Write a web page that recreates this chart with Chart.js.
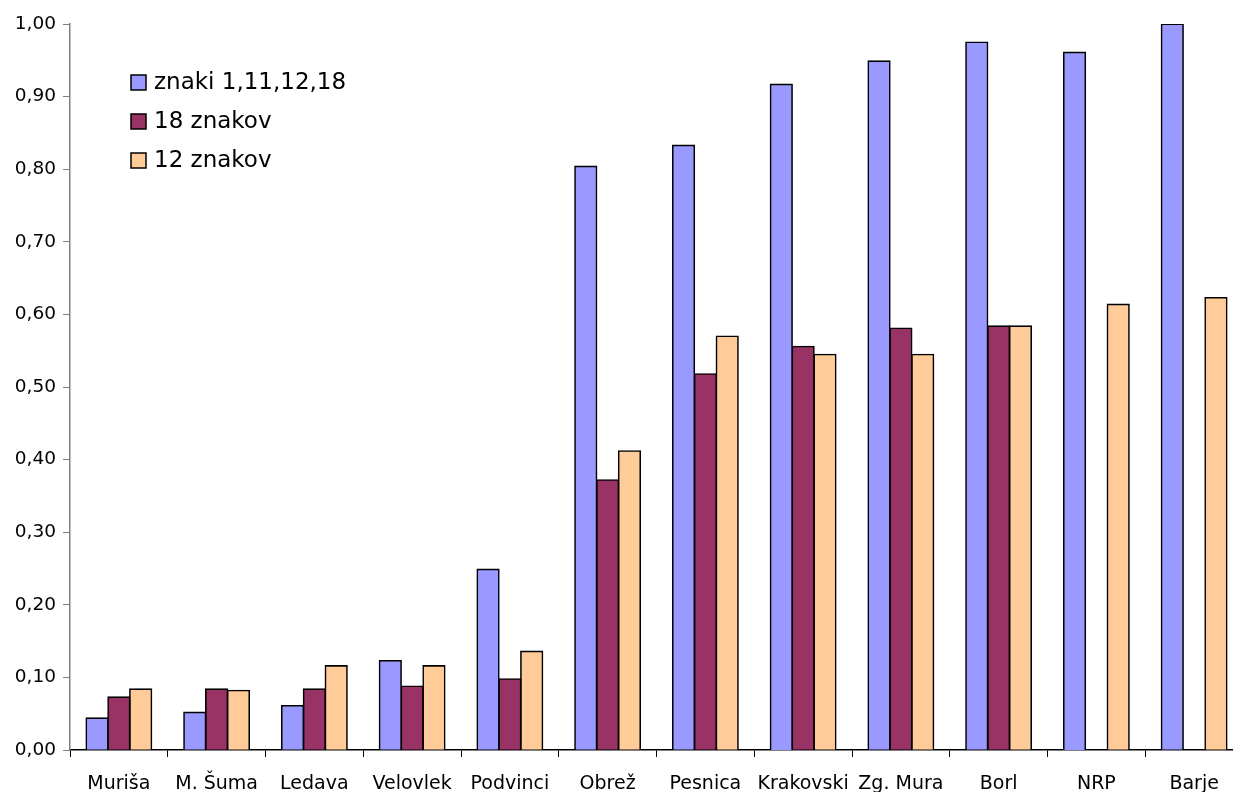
<!DOCTYPE html>
<html><head><meta charset="utf-8">
<script src="https://cdn.jsdelivr.net/npm/chart.js@4/dist/chart.umd.min.js"></script>
<style>html,body{margin:0;padding:0;background:#fff;overflow:hidden;width:1233px;height:792px}canvas{display:block}</style>
</head><body>
<canvas id="c" width="1245" height="810"></canvas>
<script>
const categories = ["Muriša","M. Šuma","Ledava","Velovlek","Podvinci","Obrež","Pesnica","Krakovski","Zg. Mura","Borl","NRP","Barje"];
const seriesNames = ["znaki 1,11,12,18","18 znakov","12 znakov"];
const znaki = [0.044,0.052,0.061,0.123,0.249,0.804,0.833,0.917,0.949,0.975,0.961,1.00];
const znakov18 = [0.073,0.084,0.084,0.088,0.098,0.372,0.518,0.556,0.581,0.584,null,null];
const znakov12 = [0.084,0.082,0.116,0.116,0.136,0.412,0.570,0.545,0.545,0.584,0.614,0.623];
const yTicks = [0,0.1,0.2,0.3,0.4,0.5,0.6,0.7,0.8,0.9,1.0];

const colors = ["#9999FF","#993366","#FFCC99"];
const FONT = "'DejaVu Sans', Verdana, sans-serif";

const legendPlugin = {
  id: 'insideLegend',
  afterDraw(chart) {
    const ctx = chart.ctx;
    ctx.save();
    ctx.font = "23px " + FONT;
    ctx.textBaseline = 'middle';
    chart.data.datasets.forEach((ds, i) => {
      const y = 82 + i * 39;
      ctx.fillStyle = ds.backgroundColor;
      ctx.fillRect(131, y - 7, 15, 15);
      ctx.strokeStyle = '#000';
      ctx.lineWidth = 1.5;
      ctx.strokeRect(131, y - 7, 15, 15);
      ctx.fillStyle = '#000';
      ctx.fillText(ds.label, 154, y + 1);
    });
    ctx.restore();
  }
};

new Chart(document.getElementById('c'), {
  type: 'bar',
  data: {
    labels: categories,
    datasets: [
      { label: seriesNames[0], data: znaki, backgroundColor: colors[0] },
      { label: seriesNames[1], data: znakov18, backgroundColor: colors[1] },
      { label: seriesNames[2], data: znakov12, backgroundColor: colors[2] }
    ].map(d => Object.assign(d, { borderColor: '#000', borderWidth: 1.6, borderSkipped: 'bottom', inflateAmount: 0.7, barPercentage: 1.0, categoryPercentage: 0.67 }))
  },
  options: {
    responsive: false,
    animation: false,
    layout: { padding: { left: 0, right: 2, top: 24, bottom: 0 } },
    plugins: { legend: { display: false }, tooltip: { enabled: false } },
    scales: {
      x: {
        grid: { offset: true, drawOnChartArea: false, drawTicks: true, tickLength: 7, color: '#000', tickColor: '#000' },
        border: { color: '#000', width: 1.5 },
        ticks: { color: '#000', font: { size: 19, family: FONT }, padding: 16, maxRotation: 0, autoSkip: false },
        afterFit: s => { s.height = 60; }
      },
      y: {
        min: 0, max: 1.0,
        afterBuildTicks: s => { s.ticks = yTicks.map(v => ({ value: v })); },
        grid: { drawOnChartArea: false, tickLength: 7, color: '#808080' },
        border: { color: '#808080', width: 1.5 },
        ticks: { color: '#000', font: { size: 18.5, family: FONT }, padding: 7,
          callback: v => v.toFixed(2).replace('.', ',') },
        afterFit: s => { s.width = 70; }
      }
    }
  },
  plugins: [legendPlugin]
});
</script>
</body></html>
